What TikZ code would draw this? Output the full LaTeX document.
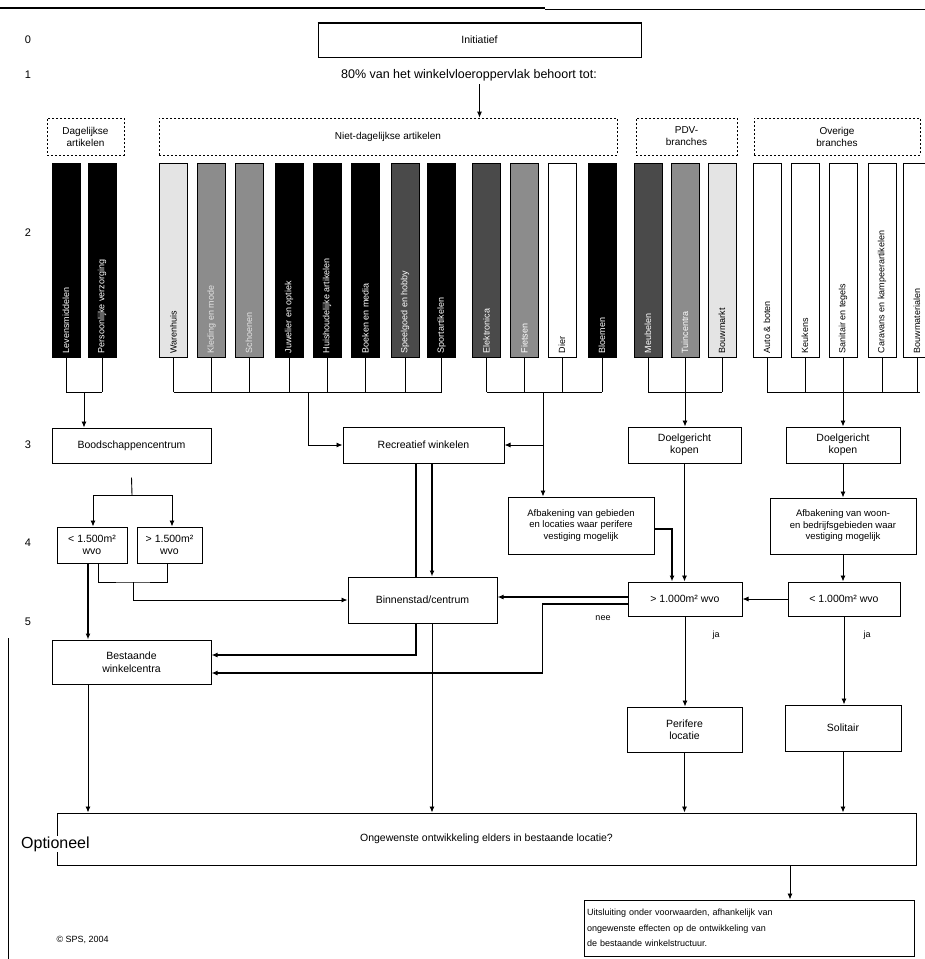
\documentclass[tikz,border=0pt]{standalone}
\usepackage{fontspec}
\setmainfont{Liberation Sans}
\usetikzlibrary{arrows.meta}
\definecolor{bardark}{HTML}{4A4A4A}
\definecolor{barmid}{HTML}{8C8C8C}
\definecolor{barlight}{HTML}{E4E4E4}
\tikzset{
  wh/.style 2 args={minimum width=#1pt, minimum height=#2pt},
  box/.style={draw, line width=1pt, fill=white, align=center, inner sep=1pt, font=\fontsize{10.5}{12.5}\selectfont},
  grp/.style={draw, line width=0.7pt, dash pattern=on 2pt off 2pt, align=center, inner sep=1pt, font=\fontsize{10}{12}\selectfont},
  bar/.style={draw, line width=0.8pt, minimum width=28pt, minimum height=194pt, inner sep=0pt},
  barlab/.style={rotate=90, anchor=west, inner sep=0pt, font=\fontsize{9}{10}\selectfont},
  conn/.style={draw, line width=0.9pt},
  heavy/.style={line width=1.7pt},
  arr/.style={conn, -{Latex[length=6pt,width=5pt]}},
  lab/.style={font=\fontsize{10.5}{12}\selectfont},
  num/.style={font=\fontsize{11}{12}\selectfont}
}
\begin{document}
\begin{tikzpicture}[x=1pt, y=-1pt]
  \useasboundingbox (0,0) rectangle (925,959);
  \draw[line width=2.2pt] (0,8) -- (545,8);
  \draw[line width=0.8pt] (545,9) -- (925,9);
  \draw[conn] (8,638) -- (8,959);
  \foreach \n/\y in {0/40,1/75,2/233,3/445,4/543,5/622}
    \node[num] (r\n) at (28,\y) {\n};

  \node[box, wh={323}{34}] (init) at (479.5,40) {Initiatief};
  \draw[line width=2pt] (init.north west) -- (init.north east);
  \node[lab, font=\fontsize{12.5}{14}\selectfont] (t1) at (469,75) {80\% van het winkelvloeroppervlak behoort tot:};

  \node[grp, wh={77}{37}] (dag) at (85.5,136.5) {Dagelijkse\\artikelen};
  \node[grp, wh={458}{37}] (nd) at (388,136.5) {Niet-dagelijkse artikelen};
  \node[grp, wh={101}{37}] (pdv) at (686.5,136.5) {PDV-\\branches};
  \node[grp, wh={166}{37}] (ov) at (837,136.5) {Overige\\branches};
  \draw[arr] (t1.south -| init.south) -- (init.south |- nd.north);

  \foreach \cx/\fc/\tc/\lab [count=\i] in {
      66/black/white/Levensmiddelen,
      102/black/white/Persoonlijke verzorging,
      173.5/barlight/black/Warenhuis,
      211.5/barmid/barlight/Kleding en mode,
      249/barmid/barlight/Schoenen,
      289/black/white/Juwelier en optiek,
      327/black/white/Huishoudelijke artikelen,
      365.5/black/white/Boeken en media,
      405/bardark/white/Speelgoed en hobby,
      441.5/black/white/Sportartikelen,
      486.5/bardark/white/Elektronica,
      524.5/barmid/white/Fietsen,
      562/white/black/Dier,
      602/black/white/Bloemen,
      648/bardark/white/Meubelen,
      685/barmid/white/Tuincentra,
      722/barlight/black/Bouwmarkt,
      767/white/black/Auto \& boten,
      805/white/black/Keukens,
      843/white/black/Sanitair en tegels,
      882/white/black/Caravans en kampeerartikelen,
      917/white/black/Bouwmaterialen} {
    \node[bar, fill=\fc] (b\i) at (\cx,260) {};
    \node[barlab, text=\tc] at ([yshift=4pt]b\i.south) {\lab};
    \draw[conn] (b\i.south) -- ++(0,35);
  }

  \coordinate (bus) at (0,392);
  \draw[conn] (b1.south |- bus) -- (b2.south |- bus);
  \draw[conn] (b3.south |- bus) -- (b10.south |- bus);
  \draw[conn] (b11.south |- bus) -- (b14.south |- bus);
  \draw[conn] (b15.south |- bus) -- (b17.south |- bus);
  \draw[conn] (b18.south |- bus) -- (920,392);
  \coordinate (dagm) at (84,392);
  \coordinate (ndm) at (308,392);
  \coordinate (lgm) at (543,392);

  \node[box, wh={159}{35}] (bc) at (131.5,445.5) {Boodschappencentrum};
  \node[box, wh={161}{36}] (rec) at (423.5,445) {Recreatief winkelen};
  \node[box, wh={113}{36}] (dk1) at (684.5,445) {Doelgericht\\kopen};
  \node[box, wh={114}{36}] (dk2) at (843,445) {Doelgericht\\kopen};
  \node[box, wh={70}{36}] (s1) at (92,545) {< 1.500m²\\wvo};
  \node[box, wh={65}{36}] (s2) at (169.5,545) {> 1.500m²\\wvo};
  \node[box, wh={146}{57}, font=\fontsize{9.5}{11.5}\selectfont] (af1) at (581,525.5) {Afbakening van gebieden\\en locaties waar perifere\\vestiging mogelijk};
  \node[box, wh={146}{56}, font=\fontsize{9.5}{11.5}\selectfont] (af2) at (843,526) {Afbakening van woon-\\en bedrijfsgebieden waar\\vestiging mogelijk};
  \node[box, wh={149}{46}] (bin) at (422.5,600) {Binnenstad/centrum};
  \node[box, wh={114}{34}] (g1) at (685,599) {> 1.000m² wvo};
  \node[box, wh={112}{34}] (g2) at (844,599) {< 1.000m² wvo};
  \node[box, wh={159}{44}] (bw) at (131.5,662) {Bestaande\\winkelcentra};
  \node[box, wh={115}{45}] (per) at (684.5,729.5) {Perifere\\locatie};
  \node[box, wh={116}{46}] (sol) at (843,728) {Solitair};
  \node[box, wh={859}{52}] (opt) at (486.5,839) {Ongewenste ontwikkeling elders in bestaande locatie?};
  \node[font=\fontsize{16}{18}\selectfont, anchor=west, inner sep=1pt, fill=white] (optl) at (20,844) {Optioneel};
  \node[box, wh={330}{56}, text width=324pt, align=left, font=\fontsize{9}{15.5}\selectfont] (uit) at (749,928) {Uitsluiting onder voorwaarden, afhankelijk van\\ongewenste effecten op de ontwikkeling van\\de bestaande winkelstructuur.};
  \node[lab, anchor=west, font=\fontsize{9}{10}\selectfont] (copy) at (53,940) {© SPS, 2004};
  \node[lab, font=\fontsize{9}{10}\selectfont] (nee) at (603,618) {nee};
  \node[lab, font=\fontsize{9}{10}\selectfont] (ja1) at (716,635) {ja};
  \node[lab, font=\fontsize{9}{10}\selectfont] (ja2) at (867,635) {ja};

  \draw[arr] (dagm) -- (dagm |- bc.north);
  \draw[arr] (ndm) |- (rec.west);
  \draw[arr] (lgm) -- (lgm |- af1.north);
  \draw[arr] (lgm |- rec.east) -- (rec.east);
  \draw[arr] (b16.south) -- (b16.south |- dk1.north);
  \draw[arr] (b20.south) -- (b20.south |- dk2.north);

  \coordinate (sp) at (132,495);
  \coordinate (j1) at (133,582);
  \draw[conn] ([yshift=-14pt]bc.south) -- (sp);
  \draw[arr] (sp) -| ([xshift=1pt]s1.north);
  \draw[arr] (sp) -| ([xshift=2.5pt]s2.north);
  \draw[arr, heavy] ([xshift=-4pt]s1.south) -- ([xshift=-4pt]s1.south |- bw.north);
  \draw[conn] ([xshift=6pt]s1.south) |- (j1) -| ([xshift=-2.5pt]s2.south);
  \draw[arr] (j1) |- (bin.west);

  \draw[conn, heavy] ([xshift=-7.5pt]rec.south) -- ([xshift=-7.5pt]rec.south |- bin.north);
  \draw[arr, heavy] ([xshift=8.5pt]rec.south) -- ([xshift=8.5pt]rec.south |- bin.north);
  \draw[arr, heavy] ([xshift=-6.5pt]bin.south) |- ([yshift=7pt]bw.east);
  \draw[arr] ([xshift=9.5pt]bin.south) -- ([xshift=9.5pt]bin.south |- opt.north);

  \draw[arr, heavy] ([yshift=2pt]g1.west) -- ([yshift=2pt]g1.west -| bin.east);
  \draw[arr, heavy] ([yshift=-5pt]g1.west) -- ++(-85,0) |- ([yshift=-11pt]bw.east);
  \draw[arr] (g2.west) -- (g1.east);
  \draw[arr] (dk1.south) -- (dk1.south |- g1.north);
  \draw[arr, heavy] ([yshift=-3.5pt]af1.east) -| ([xshift=-13pt]g1.north);
  \draw[arr] (dk2.south) -- (af2.north);
  \draw[arr] (af2.south) -- (af2.south |- g2.north);
  \draw[arr] (g1.south) -- (g1.south |- per.north);
  \draw[arr] (g2.south) -- (g2.south |- sol.north);

  \draw[arr] ([xshift=-43.5pt]bw.south) -- ([xshift=-43.5pt]bw.south |- opt.north);
  \draw[arr] (per.south) -- (per.south |- opt.north);
  \draw[arr] (sol.south) -- (sol.south |- opt.north);
  \draw[arr] (opt.south -| 790,0) -- (uit.north -| 790,0);
\end{tikzpicture}
\end{document}
